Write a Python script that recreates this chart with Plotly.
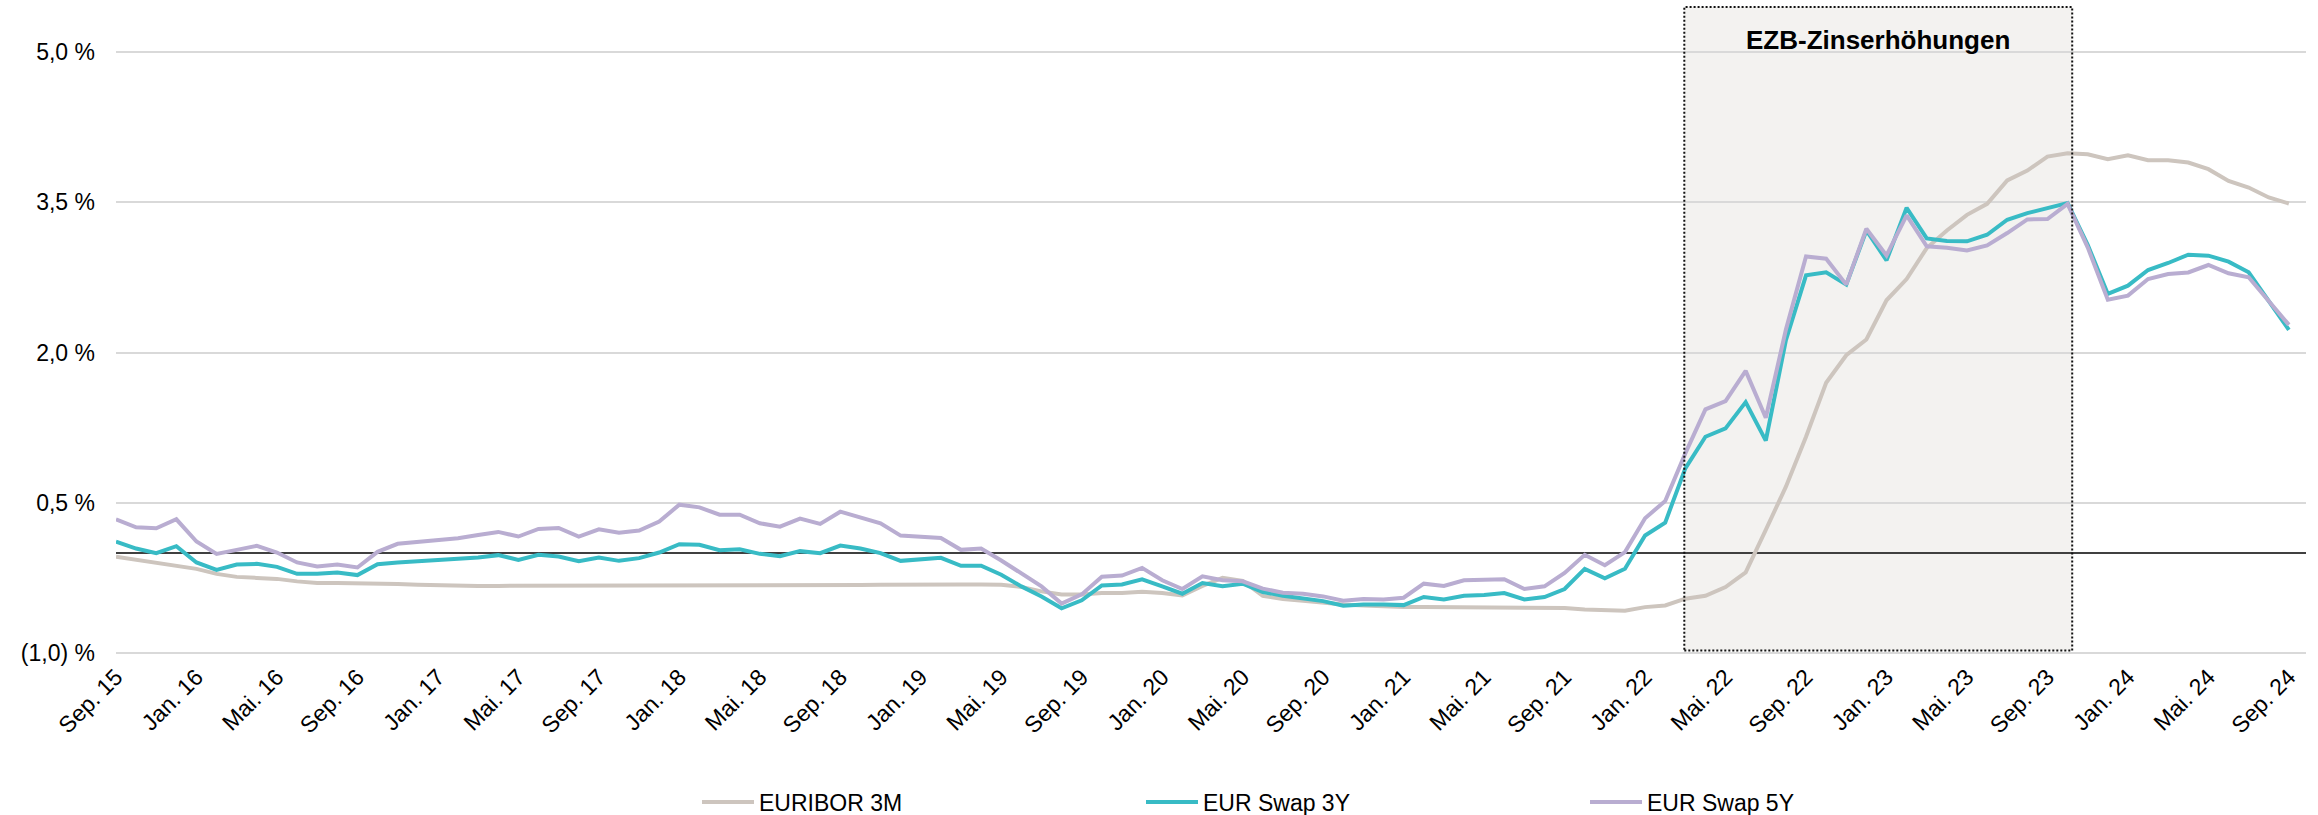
import plotly.graph_objects as go

# ---------------- data (monthly, Sep 2015 .. Sep 2024) ----------------
month_abbr = ["Jan.", "Feb.", "März", "Apr.", "Mai.", "Jun.", "Jul.", "Aug.", "Sep.", "Okt.", "Nov.", "Dez."]
months = []
for i in range(109):
    mi = (8 + i) % 12
    yr = 15 + (8 + i) // 12
    months.append(f"{month_abbr[mi]} {yr:02d}")

euribor_3m = [
    -0.04, -0.07, -0.11, -0.13, -0.16, -0.21, -0.24, -0.25, -0.26, -0.285,
    -0.30, -0.30, -0.30, -0.31, -0.31, -0.318, -0.325, -0.328, -0.33, -0.33,
    -0.33, -0.33, -0.33, -0.33, -0.328, -0.328, -0.327, -0.327, -0.327, -0.325,
    -0.327, -0.327, -0.321, -0.324, -0.321, -0.321, -0.321, -0.321, -0.318, -0.315,
    -0.312, -0.315, -0.315, -0.315, -0.318, -0.34, -0.385, -0.415, -0.415, -0.401,
    -0.40, -0.388, -0.40, -0.425, -0.33, -0.25, -0.28, -0.43, -0.46, -0.478,
    -0.498, -0.515, -0.525, -0.535, -0.54, -0.542, -0.542, -0.545, -0.548, -0.548,
    -0.548, -0.552, -0.552, -0.565, -0.575, -0.578, -0.542, -0.525, -0.458, -0.429,
    -0.342, -0.196, 0.229, 0.661, 1.159, 1.698, 1.973, 2.13, 2.522, 2.734,
    3.043, 3.219, 3.375, 3.485, 3.718, 3.817, 3.957, 3.99, 3.98, 3.93,
    3.97, 3.92, 3.92, 3.897, 3.831, 3.714, 3.648, 3.548, 3.488,
]

eur_swap_3y = [
    0.113, 0.043, -0.003, 0.066, -0.096, -0.17, -0.116, -0.11, -0.14, -0.209,
    -0.209, -0.196, -0.222, -0.113, -0.096, -0.086, -0.076, -0.066, -0.046, -0.023,
    -0.07, -0.02, -0.036, -0.083, -0.046, -0.08, -0.053, 0.003, 0.086, 0.08,
    0.027, 0.036, -0.01, -0.033, 0.017, -0.003, 0.073, 0.043, -0.003, -0.08,
    -0.07, -0.05, -0.129, -0.129, -0.219, -0.335, -0.435, -0.554, -0.474, -0.325,
    -0.315, -0.264, -0.334, -0.408, -0.301, -0.334, -0.308, -0.391, -0.428, -0.455,
    -0.482, -0.528, -0.515, -0.515, -0.522, -0.441, -0.465, -0.428, -0.421, -0.401,
    -0.465, -0.441, -0.361, -0.16, -0.254, -0.159, 0.173, 0.302, 0.844, 1.159,
    1.243, 1.505, 1.12, 2.123, 2.771, 2.801, 2.678, 3.219, 2.92, 3.445,
    3.14, 3.113, 3.11, 3.176, 3.326, 3.392, 3.445, 3.492, 3.076, 2.585,
    2.668, 2.824, 2.894, 2.977, 2.967, 2.907, 2.801, 2.518, 2.226,
]

eur_swap_5y = [
    0.335, 0.255, 0.245, 0.335, 0.113, -0.01, 0.03, 0.07, 0.003, -0.096,
    -0.136, -0.116, -0.146, 0.01, 0.09, 0.109, 0.126, 0.146, 0.179, 0.209,
    0.163, 0.239, 0.249, 0.163, 0.235, 0.20, 0.222, 0.312, 0.481, 0.454,
    0.381, 0.381, 0.295, 0.262, 0.342, 0.289, 0.411, 0.355, 0.295, 0.172,
    0.156, 0.149, 0.03, 0.043, -0.076, -0.209, -0.335, -0.507, -0.415, -0.238,
    -0.227, -0.15, -0.274, -0.361, -0.234, -0.274, -0.284, -0.358, -0.398, -0.408,
    -0.435, -0.478, -0.462, -0.465, -0.448, -0.308, -0.331, -0.274, -0.274, -0.264,
    -0.361, -0.334, -0.2, -0.02, -0.123, 0.007, 0.346, 0.518, 0.993, 1.432,
    1.515, 1.817, 1.349, 2.229, 2.96, 2.937, 2.678, 3.236, 2.97, 3.369,
    3.06, 3.047, 3.02, 3.07, 3.193, 3.329, 3.332, 3.485, 3.05, 2.528,
    2.568, 2.734, 2.784, 2.8, 2.874, 2.791, 2.751, 2.518, 2.276,
]

x_tick_labels = [
    "Sep. 15", "Jan. 16", "Mai. 16", "Sep. 16", "Jan. 17", "Mai. 17", "Sep. 17",
    "Jan. 18", "Mai. 18", "Sep. 18", "Jan. 19", "Mai. 19", "Sep. 19", "Jan. 20",
    "Mai. 20", "Sep. 20", "Jan. 21", "Mai. 21", "Sep. 21", "Jan. 22", "Mai. 22",
    "Sep. 22", "Jan. 23", "Mai. 23", "Sep. 23", "Jan. 24", "Mai. 24", "Sep. 24",
]
y_tick_values = [-1.0, 0.5, 2.0, 3.5, 5.0]
y_tick_labels = ["(1,0) %", "0,5 %", "2,0 %", "3,5 %", "5,0 %"]

series_names = ["EURIBOR 3M", "EUR Swap 3Y", "EUR Swap 5Y"]
series_colors = ["#CDC5BE", "#38BBC5", "#B9ADD1"]

# hike period (category index positions) and label
hike_start, hike_end = 77.95, 97.23
hike_label = "EZB-Zinserhöhungen"

FONT = "Liberation Sans, Arial, sans-serif"

fig = go.Figure()
for name, vals, col in zip(series_names, [euribor_3m, eur_swap_3y, eur_swap_5y], series_colors):
    fig.add_trace(go.Scatter(x=months, y=vals, mode="lines", name=name,
                             line=dict(color=col, width=4)))

# shaded period
fig.add_shape(type="rect", xref="x", yref="y", x0=hike_start, x1=hike_end, y0=-0.975, y1=5.45,
              fillcolor="#F3F2F0", line=dict(width=0), layer="below")
fig.add_shape(type="rect", xref="x", yref="y", x0=hike_start, x1=hike_end, y0=-0.975, y1=5.45,
              fillcolor="rgba(0,0,0,0)", line=dict(color="#111111", width=2, dash="2px,2px"), layer="above")
fig.add_annotation(x=(hike_start + hike_end) / 2, y=5.12, xref="x", yref="y", text=f"<b>{hike_label}</b>",
                   showarrow=False, font=dict(family=FONT, size=26, color="#000000"), yanchor="middle")

PLOT_TOP, PLOT_BOTTOM = 2, 658
PLOT_H = PLOT_BOTTOM - PLOT_TOP

fig.update_layout(
    width=2318, height=815, autosize=False,
    margin=dict(l=116, r=12, t=PLOT_TOP, b=815 - PLOT_BOTTOM, pad=0, autoexpand=False),
    paper_bgcolor="white", plot_bgcolor="white",
    font=dict(family=FONT, size=23, color="#000000"),
    showlegend=True,
    legend=dict(orientation="h", x=(697 - 116) / 2190, xanchor="left",
                y=-(802 - PLOT_BOTTOM) / PLOT_H, yanchor="middle",
                entrywidth=377, entrywidthmode="pixels", itemwidth=52,
                font=dict(family=FONT, size=23, color="#000000"), bgcolor="rgba(0,0,0,0)",
                itemclick=False, itemdoubleclick=False),
)
fig.update_xaxes(type="category", range=[0, 108.85], tickmode="array", tickvals=x_tick_labels,
                 ticktext=x_tick_labels, tickangle=-45, showgrid=False, showline=False, ticks="",
                 zeroline=False, automargin=False, tickfont=dict(family=FONT, size=23, color="#000000"))
fig.update_yaxes(range=[-1.05, 5.5], tickmode="array", tickvals=y_tick_values, ticktext=y_tick_labels,
                 showgrid=True, gridcolor="#D9D9D9", gridwidth=1.5, zeroline=True, zerolinecolor="#404040",
                 zerolinewidth=1.5, showline=False, ticks="", ticklabelstandoff=20, automargin=False,
                 tickfont=dict(family=FONT, size=23, color="#000000"))

fig.write_html("out.html")
